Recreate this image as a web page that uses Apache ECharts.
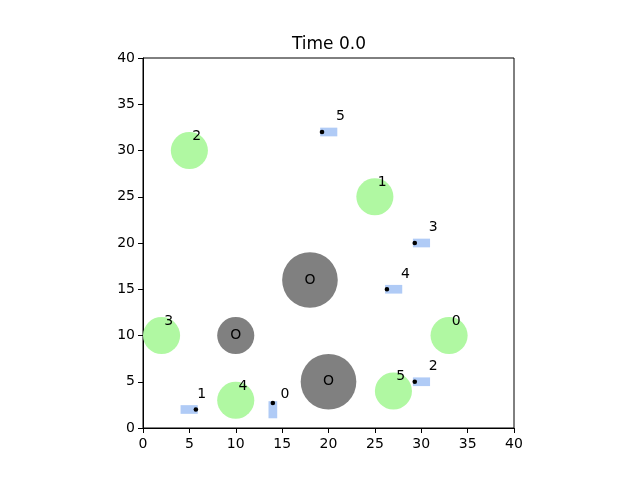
<html>
<head>
    <meta charset="utf-8">
    <title>Time 0.0</title>
    <script src="https://cdn.jsdelivr.net/npm/echarts@6/dist/echarts.min.js"></script>
    <style>
        html, body { margin: 0; padding: 0; background: #fff; }
        #main { width: 640px; height: 480px; }
    </style>
</head>
<body>
    <div id="main"></div>
    <script type="text/javascript">
        // axis ticks
        var tickValues = [0, 5, 10, 15, 20, 25, 30, 35, 40];

        // goals (green)
        var goalIds = [0, 1, 2, 3, 4, 5];
        var goalX = [33, 25, 5, 2, 10, 27];
        var goalY = [10, 25, 30, 10, 3, 4];
        var goalR = [2, 2, 2, 2, 2, 2];

        // obstacles (gray)
        var obsX = [18, 10, 20];
        var obsY = [16, 10, 5];
        var obsR = [3, 2, 3];

        // robots (blue boxes + black dot)
        var robotIds = [0, 1, 2, 3, 4, 5];
        var robotX = [14.0, 5.7, 29.3, 29.3, 26.3, 19.3];
        var robotY = [2.7, 2.0, 5.0, 20.0, 15.0, 32.0];
        var robotHeading = [-90, 180, 0, 0, 0, 0];

        var FONT = 'DejaVu Sans';
        var myChart = echarts.init(document.getElementById('main'));

        var goalData = goalX.map(function (v, i) { return [v, goalY[i], goalR[i], goalIds[i]]; });
        var obsData = obsX.map(function (v, i) { return [v, obsY[i], obsR[i]]; });
        var robotData = robotX.map(function (v, i) { return [v, robotY[i], robotHeading[i], robotIds[i]]; });

        var axisCommon = {
            type: 'value',
            min: tickValues[0],
            max: tickValues[tickValues.length - 1],
            interval: 5,
            axisLine: { show: true, onZero: false, lineStyle: { color: '#000', width: 1 } },
            axisTick: { show: true, inside: false, length: 5, lineStyle: { color: '#000', width: 1 } },
            axisLabel: { color: '#000', fontSize: 14, fontFamily: FONT, margin: 8 },
            splitLine: { show: false }
        };

        var option = {
            animation: false,
            backgroundColor: '#fff',
            title: {
                text: 'Time 0.0',
                left: 324,
                top: 31,
                textAlign: 'center',
                textStyle: { color: '#000', fontSize: 17, fontWeight: 'normal', fontFamily: FONT }
            },
            grid: {
                left: 143, top: 58, width: 371, height: 370,
                show: true, borderColor: '#000', borderWidth: 1, backgroundColor: 'transparent'
            },
            xAxis: echarts.util.merge({ axisLabel: { margin: 9 } }, axisCommon, false),
            yAxis: echarts.util.merge({}, axisCommon, false),
            series: [
                {
                    name: 'goals',
                    type: 'custom',
                    data: goalData,
                    z: 2,
                    renderItem: function (params, api) {
                        var c = api.coord([api.value(0), api.value(1)]);
                        var s = api.size([api.value(2), api.value(2)]);
                        var t = api.coord([api.value(0) + 0.3, api.value(1) + 1.55]);
                        return {
                            type: 'group',
                            children: [
                                { type: 'circle', shape: { cx: c[0], cy: c[1], r: s[0] }, style: { fill: '#b0f8a2' } },
                                { type: 'text', x: t[0], y: t[1], style: { text: String(api.value(3)), fill: '#000', fontSize: 14, fontFamily: FONT, align: 'left', verticalAlign: 'middle' } }
                            ]
                        };
                    }
                },
                {
                    name: 'obstacles',
                    type: 'custom',
                    data: obsData,
                    z: 3,
                    renderItem: function (params, api) {
                        var c = api.coord([api.value(0), api.value(1)]);
                        var s = api.size([api.value(2), api.value(2)]);
                        return {
                            type: 'group',
                            children: [
                                { type: 'circle', shape: { cx: c[0], cy: c[1], r: s[0] }, style: { fill: '#808080' } },
                                { type: 'text', x: c[0], y: c[1], style: { text: 'O', fill: '#000', fontSize: 14, fontFamily: FONT, align: 'center', verticalAlign: 'middle' } }
                            ]
                        };
                    }
                },
                {
                    name: 'robots',
                    type: 'custom',
                    data: robotData,
                    z: 4,
                    renderItem: function (params, api) {
                        var x = api.value(0), y = api.value(1);
                        var th = api.value(2) * Math.PI / 180;
                        var cs = Math.cos(th), sn = Math.sin(th);
                        var R = 0.2, F = 1.65, W = 0.47;
                        var local = [[-R, -W], [F, -W], [F, W], [-R, W]];
                        var pts = local.map(function (p) {
                            return api.coord([x + p[0] * cs - p[1] * sn, y + p[0] * sn + p[1] * cs]);
                        });
                        var c = api.coord([x, y]);
                        var t = api.coord([x + 1.31 + 0.69 * cs, y + 1.65 + 0.7 * sn]);
                        return {
                            type: 'group',
                            children: [
                                { type: 'polygon', shape: { points: pts }, style: { fill: '#b0cbf6' } },
                                { type: 'circle', shape: { cx: c[0], cy: c[1], r: 2.3 }, style: { fill: '#000' } },
                                { type: 'text', x: t[0], y: t[1], style: { text: String(api.value(3)), fill: '#000', fontSize: 14, fontFamily: FONT, align: 'center', verticalAlign: 'middle' } }
                            ]
                        };
                    }
                }
            ]
        };

        myChart.setOption(option);
    </script>
</body>
</html>
